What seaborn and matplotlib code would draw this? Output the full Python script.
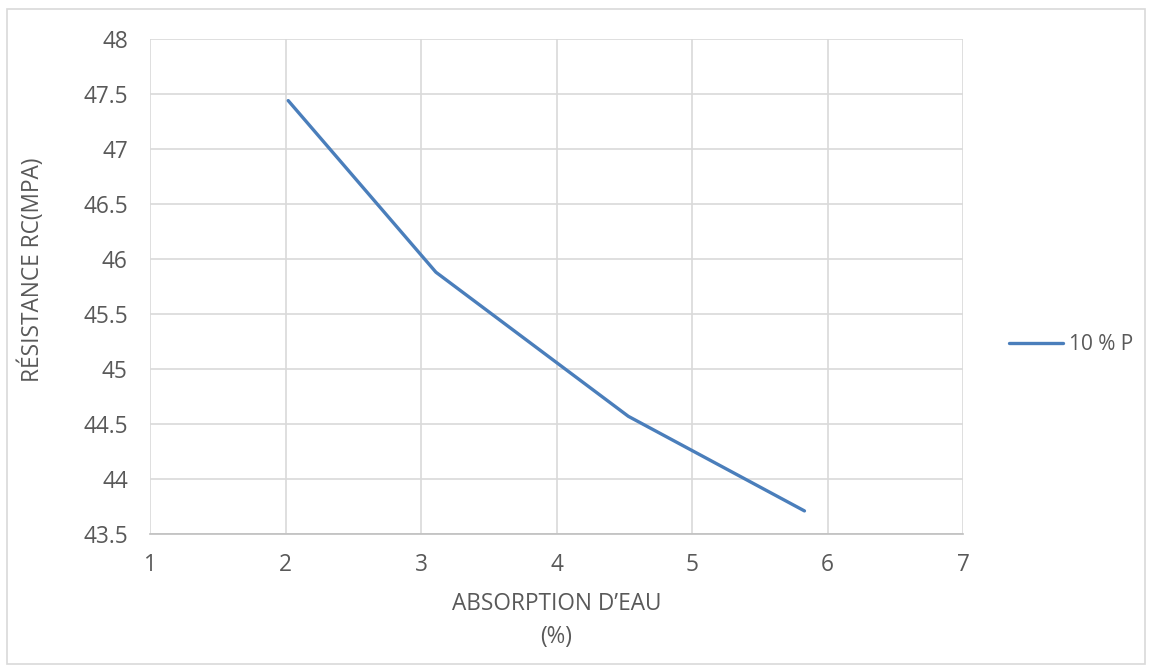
import matplotlib
matplotlib.use("Agg")
import matplotlib.pyplot as plt
import seaborn as sns
import pandas as pd
from matplotlib.patches import Rectangle

absorption = [2.02, 3.11, 4.53, 5.83]
resistance = [47.44, 45.88, 44.57, 43.71]
series_name = "10 % P"
x_ticks = [1, 2, 3, 4, 5, 6, 7]
y_ticks = [43.5, 44, 44.5, 45, 45.5, 46, 46.5, 47, 47.5, 48]

sns.set_theme(style="white")
plt.rcParams["font.family"] = ["Open Sans", "DejaVu Sans"]
text_color = "#595959"
fs = 16.3

df = pd.DataFrame({"x": absorption, "y": resistance, "serie": series_name})

fig = plt.figure(figsize=(11.52, 6.72), dpi=100)
ax = fig.add_axes([150/1152, 1 - 534/672, (963 - 150)/1152, (534 - 39)/672])

sns.lineplot(data=df, x="x", y="y", hue="serie", palette=["#4a7ebb"],
             sort=False, linewidth=2.4, ax=ax, legend=True)

ax.set_xlim(1, 7)
ax.set_ylim(43.5, 48)
ax.set_xticks(x_ticks)
ax.set_yticks(y_ticks)
ax.set_xticklabels([f"{t:g}" for t in x_ticks])
ax.set_yticklabels([f"{t:g}" for t in y_ticks])
ax.grid(True, color="#d9d9d9", linewidth=1.2)
ax.set_axisbelow(True)
for s in ["top", "right", "left"]:
    ax.spines[s].set_visible(False)
ax.spines["bottom"].set_color("#bfbfbf")
ax.spines["bottom"].set_linewidth(1.2)
ax.tick_params(axis="both", length=0, labelsize=fs, colors=text_color)
ax.tick_params(axis="y", pad=16)
ax.tick_params(axis="x", pad=14)

ax.set_xlabel("ABSORPTION D\u2019EAU\n(%)", fontsize=fs, color=text_color, linespacing=1.5)
ax.xaxis.set_label_coords(0.5, (534 - 592) / 495)
ax.set_ylabel("RÉSISTANCE RC(MPA)", fontsize=fs, color=text_color)
ax.yaxis.set_label_coords((45 - 150) / 813, (534 - 270) / 495)

leg = ax.legend(loc="center left", bbox_to_anchor=(1009/1152, 1 - 345/672),
                bbox_transform=fig.transFigure, frameon=False, borderaxespad=0,
                fontsize=15, handlelength=2.6, handletextpad=0.3, borderpad=0)
for t in leg.get_texts():
    t.set_color(text_color)
for h in leg.get_lines():
    h.set_linewidth(2.4)

fig.patches.append(Rectangle((7/1152, 1 - 664/672), (1145 - 7)/1152, (664 - 9)/672,
                             transform=fig.transFigure, fill=False,
                             edgecolor="#d9d9d9", linewidth=1.2))

fig.savefig("out.png", dpi=100)
